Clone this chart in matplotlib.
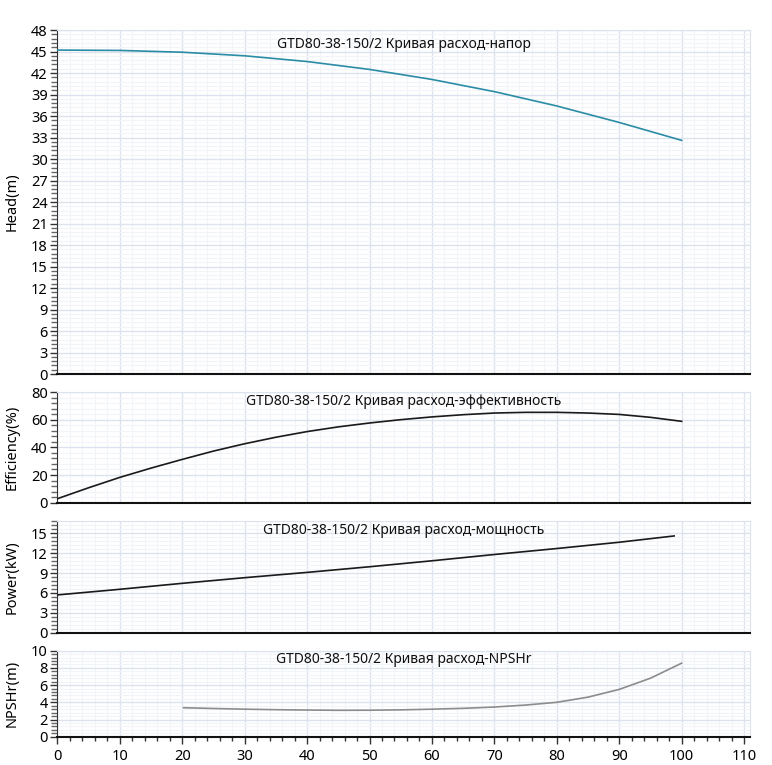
import matplotlib
matplotlib.use("Agg")
import matplotlib.pyplot as plt
from matplotlib.ticker import MultipleLocator

plt.rcParams['font.family'] = ['Noto Sans', 'DejaVu Sans']

model = "GTD80-38-150/2"
titles = ["Кривая расход-напор", "Кривая расход-эффективность",
          "Кривая расход-мощность", "Кривая расход-NPSHr"]
ylabels = ["Head(m)", "Efficiency(%)", "Power(kW)", "NPSHr(m)"]

head_q = [0, 10, 20, 30, 40, 50, 60, 70, 80, 90, 100]
head_h = [45.2, 45.15, 44.9, 44.4, 43.6, 42.5, 41.1, 39.4, 37.4, 35.1, 32.6]

eff_q = [0, 5, 10, 15, 20, 25, 30, 35, 40, 45, 50, 55, 60, 65, 70, 75, 80, 85, 90, 95, 100]
eff_v = [2.9, 10.8, 18.3, 25.0, 31.3, 37.3, 42.6, 47.3, 51.4, 54.8, 57.6, 60.0, 62.0, 63.6, 64.8, 65.3, 65.3, 64.8, 63.8, 61.7, 58.8]

pow_q = [0, 10, 20, 30, 40, 50, 60, 70, 80, 90, 98.8]
pow_v = [5.7, 6.55, 7.45, 8.3, 9.1, 9.95, 10.85, 11.8, 12.7, 13.65, 14.6]

npsh_q = [20.2, 25, 30, 35, 40, 45, 50, 55, 60, 65, 70, 75, 80, 85, 90, 95, 100]
npsh_v = [3.37, 3.28, 3.2, 3.14, 3.1, 3.07, 3.08, 3.12, 3.2, 3.3, 3.45, 3.68, 4.0, 4.6, 5.5, 6.8, 8.55]

series = [(head_q, head_h, "#2b8ca6"), (eff_q, eff_v, "#1a1a1a"),
          (pow_q, pow_v, "#1a1a1a"), (npsh_q, npsh_v, "#8c8c8c")]

ylims = [(0, 48), (0, 80), (0, 16.9), (0, 10)]
ymajor = [3, 20, 3, 2]
yminor = [0.6, 4, 0.6, 0.4]

W, H = 772, 765
left = 57.4 / W
width = (750.3 - 57.4) / W
boxes = [(30, 374), (392, 502.7), (520.7, 632.7), (650.7, 736.7)]

fig = plt.figure(figsize=(W / 100, H / 100), dpi=100)
major_c = "#dde3ee"
minor_c = "#f1f4f9"
for i, (top, bot) in enumerate(boxes):
    ax = fig.add_axes([left, 1 - bot / H, width, (bot - top) / H])
    q, v, c = series[i]
    ax.plot(q, v, color=c, lw=1.2, zorder=3)
    ax.set_xlim(0, 111)
    ax.set_ylim(*ylims[i])
    ax.xaxis.set_major_locator(MultipleLocator(10))
    ax.xaxis.set_minor_locator(MultipleLocator(2))
    ax.yaxis.set_major_locator(MultipleLocator(ymajor[i]))
    ax.yaxis.set_minor_locator(MultipleLocator(yminor[i]))
    ax.grid(which='major', color=major_c, lw=1.0, zorder=0)
    ax.grid(which='minor', color=minor_c, lw=0.8, zorder=0)
    ax.set_axisbelow(True)
    for s in ['top', 'right']:
        ax.spines[s].set_color(major_c)
    ax.spines['left'].set_color("#333333")
    ax.spines['bottom'].set_color("#111111")
    ax.spines['bottom'].set_linewidth(1.5)
    ax.tick_params(axis='y', which='major', length=5, width=1, color="#333333",
                   labelsize=10.5, pad=2)
    ax.tick_params(axis='y', which='minor', length=4, width=1, color="#666666")
    if i < 3:
        ax.tick_params(axis='x', which='both', length=0, labelbottom=False)
    else:
        ax.tick_params(axis='x', which='major', length=5, width=1, color="#333333",
                       labelsize=10.5)
        ax.tick_params(axis='x', which='minor', length=3, width=1, color="#333333")
    ax.set_ylabel(ylabels[i], fontsize=10.5, labelpad=4)
    ax.yaxis.set_label_coords(-0.055, 0.5)
    ax.text(0.5, 0.98, f"{model} {titles[i]}", transform=ax.transAxes,
            ha='center', va='top', fontsize=10, color="#111111")

fig.savefig("out.png", dpi=100)
